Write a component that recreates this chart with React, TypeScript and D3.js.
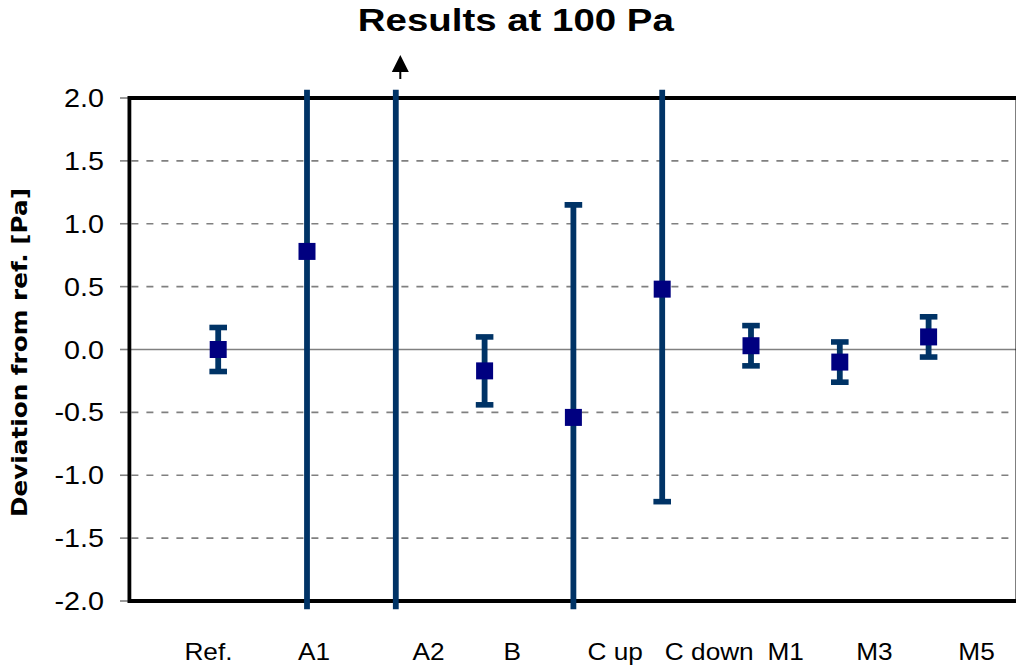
import React from "react";
import * as d3 from "d3";

// Measurement positions on the x axis (1 = Ref., 2 = A1, ...)
const categories = ["Ref.", "A1", "A2", "B", "C up", "C down", "M1", "M3", "M5"];
const xPositions = [1, 2, 3, 4, 5, 6, 7, 8, 9];
// Mean deviation from the reference [Pa]
const deviations = [0.0, 0.78, 3.0, -0.17, -0.54, 0.48, 0.03, -0.1, 0.1];
// Half width of the uncertainty interval [Pa]
const uncertainties = [0.175, 3.2, 5.5, 0.27, 1.69, 1.69, 0.16, 0.16, 0.16];
// Where the category names sit along the x axis
const labelPositions = [0.89, 2.08, 3.37, 4.31, 5.47, 6.53, 7.39, 8.39, 9.54];
const yTicks = [2.0, 1.5, 1.0, 0.5, 0.0, -0.5, -1.0, -1.5, -2.0];

const W = 1016;
const H = 672;

export default function App() {
  const x = d3.scaleLinear().domain([0, 10]).range([129.4, 1017.4]);
  const y = d3.scaleLinear().domain([2, -2]).range([98, 601]);

  const clipTop = y(2.066);
  const clipBottom = y(-2.066);
  const barColor = "#003366";
  const markColor = "#000080";
  const capHalf = 8.8;
  const mark = 17;

  // value above the axis range is flagged with an arrow
  const offScale = deviations
    .map((d, i) => ({ d, i }))
    .filter((o) => o.d > y.domain()[0]);

  return (
    <svg
      width={W}
      height={H}
      style={{ position: "absolute", left: 0, top: 0, display: "block", background: "#fff" }}
      fontFamily="'Liberation Sans', Arial, sans-serif"
    >
      <defs>
        <clipPath id="plotClip">
          <rect x={0} y={clipTop} width={W} height={clipBottom - clipTop} />
        </clipPath>
      </defs>
      <rect x={0} y={0} width={W} height={H} fill="#fff" />

      {/* title */}
      <text
        x={515.8}
        y={31}
        textAnchor="middle"
        fontSize={31}
        fontWeight="bold"
        textLength={316}
        lengthAdjust="spacingAndGlyphs"
      >
        Results at 100 Pa
      </text>

      {/* gridlines */}
      {yTicks
        .filter((t) => t !== 0 && Math.abs(t) !== 2)
        .map((t) => (
          <line
            key={"g" + t}
            x1={x(0) + 2}
            x2={W}
            y1={y(t)}
            y2={y(t)}
            stroke="#808080"
            strokeWidth={1.6}
            strokeDasharray="7,8"
          />
        ))}
      <line x1={x(0)} x2={W} y1={y(0)} y2={y(0)} stroke="#808080" strokeWidth={1.6} />

      {/* y ticks and labels */}
      {yTicks.map((t) => (
        <g key={"t" + t}>
          <line x1={120} x2={x(0)} y1={y(t)} y2={y(t)} stroke="#808080" strokeWidth={1.6} />
          <text
            transform={`translate(104,${y(t) + 9}) scale(1.15,1)`}
            textAnchor="end"
            fontSize={25}
            fill="#000"
          >
            {t.toFixed(1)}
          </text>
        </g>
      ))}

      {/* plot frame */}
      <line x1={x(0)} x2={W + 4} y1={y(2)} y2={y(2)} stroke="#000" strokeWidth={4} />
      <line x1={x(0)} x2={W + 4} y1={y(-2)} y2={y(-2)} stroke="#000" strokeWidth={4} />
      <line x1={x(0)} x2={x(0)} y1={y(2) - 2} y2={y(-2) + 2} stroke="#000" strokeWidth={3.8} />
      <line x1={x(10)} x2={x(10)} y1={y(2) - 2} y2={y(-2) + 2} stroke="#000" strokeWidth={3.8} />

      {/* error bars */}
      <g clipPath="url(#plotClip)">
        {xPositions.map((p, i) => {
          const cx = x(p);
          const hi = y(deviations[i] + uncertainties[i]);
          const lo = y(deviations[i] - uncertainties[i]);
          return (
            <g key={"e" + i} stroke={barColor}>
              <line x1={cx} x2={cx} y1={hi} y2={lo} strokeWidth={5.8} />
              <line x1={cx - capHalf} x2={cx + capHalf} y1={hi} y2={hi} strokeWidth={5.6} />
              <line x1={cx - capHalf} x2={cx + capHalf} y1={lo} y2={lo} strokeWidth={5.6} />
            </g>
          );
        })}
      </g>

      {/* markers */}
      {xPositions.map((p, i) =>
        deviations[i] <= 2 && deviations[i] >= -2 ? (
          <rect
            key={"m" + i}
            x={x(p) - mark / 2}
            y={y(deviations[i]) - mark / 2}
            width={mark}
            height={mark}
            fill={markColor}
          />
        ) : null
      )}

      {/* off-scale indicator */}
      {offScale.map(({ i }) => {
        const ax = x(xPositions[i]) + 4.5;
        return (
          <g key={"a" + i}>
            <line x1={ax} x2={ax} y1={70} y2={79} stroke="#000" strokeWidth={2} />
            <polygon points={`${ax},55 ${ax - 8.5},72 ${ax + 8.5},72`} fill="#000" />
          </g>
        );
      })}

      {/* category labels */}
      {categories.map((c, i) => (
        <text
          key={"c" + i}
          transform={`translate(${x(labelPositions[i])},660) scale(1.07,1)`}
          textAnchor="middle"
          fontSize={24.5}
          fill="#000"
        >
          {c}
        </text>
      ))}

      {/* y axis title */}
      <text
        transform="translate(26.5,352.5) rotate(-90)"
        textAnchor="middle"
        fontFamily="'DejaVu Sans', Verdana, sans-serif"
        fontWeight="bold"
        fontSize={21}
        textLength={329}
        lengthAdjust="spacingAndGlyphs"
      >
        Deviation from ref. [Pa]
      </text>
    </svg>
  );
}
